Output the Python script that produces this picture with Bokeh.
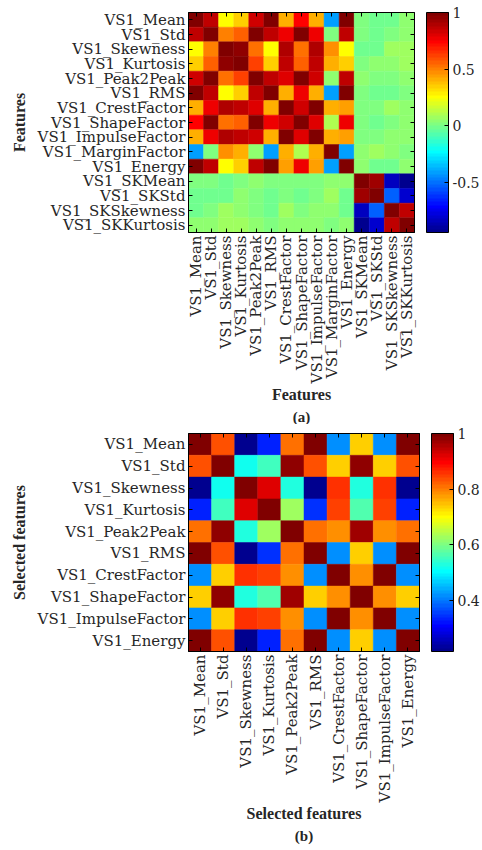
import math
import numpy as np
from bokeh.plotting import figure
from bokeh.models import (LinearColorMapper, ColorBar, FixedTicker, Title,
                          ColumnDataSource, PrintfTickFormatter, CategoricalAxis)
from bokeh.layouts import column
from bokeh.embed import file_html
from bokeh.resources import INLINE

# ---------------- data ----------------
features_all = ["VS1_Mean", "VS1_Std", "VS1_Skewness", "VS1_Kurtosis", "VS1_Peak2Peak",
                "VS1_RMS", "VS1_CrestFactor", "VS1_ShapeFactor", "VS1_ImpulseFactor",
                "VS1_MarginFactor", "VS1_Energy", "VS1_SKMean", "VS1_SKStd",
                "VS1_SKSkewness", "VS1_SKKurtosis"]

corr_all = [
    [1.00, 0.87, 0.27, 0.35, 0.84, 0.99, 0.42, 0.75, 0.42, -0.42, 0.99, 0.02, -0.02, -0.02, 0.03],
    [0.87, 1.00, 0.51, 0.57, 0.97, 0.87, 0.76, 0.99, 0.76, 0.02, 0.87, 0.02, -0.02, 0.00, 0.03],
    [0.27, 0.51, 1.00, 0.94, 0.54, 0.27, 0.89, 0.54, 0.88, 0.47, 0.27, -0.02, -0.02, 0.07, 0.09],
    [0.35, 0.57, 0.94, 1.00, 0.61, 0.35, 0.87, 0.56, 0.87, 0.40, 0.36, 0.00, 0.03, 0.05, 0.07],
    [0.84, 0.97, 0.54, 0.61, 1.00, 0.85, 0.80, 0.97, 0.84, 0.03, 0.85, 0.03, 0.00, 0.02, 0.05],
    [0.99, 0.87, 0.27, 0.35, 0.85, 1.00, 0.42, 0.76, 0.42, -0.41, 0.99, 0.02, -0.02, -0.02, 0.02],
    [0.42, 0.76, 0.89, 0.87, 0.80, 0.42, 1.00, 0.82, 0.99, 0.40, 0.43, 0.025, 0.01, 0.07, 0.06],
    [0.75, 0.99, 0.54, 0.56, 0.97, 0.76, 0.82, 1.00, 0.81, 0.11, 0.76, 0.025, -0.02, 0.02, 0.03],
    [0.42, 0.76, 0.88, 0.87, 0.84, 0.42, 0.99, 0.81, 1.00, 0.40, 0.43, 0.02, 0.02, 0.03, 0.05],
    [-0.42, 0.02, 0.47, 0.40, 0.03, -0.41, 0.40, 0.11, 0.40, 1.00, -0.40, 0.05, 0.09, 0.03, 0.00],
    [0.99, 0.87, 0.27, 0.36, 0.85, 0.99, 0.43, 0.76, 0.43, -0.40, 1.00, 0.03, -0.02, -0.02, 0.03],
    [0.02, 0.02, -0.02, 0.00, 0.03, 0.02, 0.025, 0.025, 0.02, 0.05, 0.03, 1.00, 0.92, -0.83, -0.94],
    [-0.02, -0.02, -0.02, 0.03, 0.00, -0.02, 0.01, -0.02, 0.02, 0.09, -0.02, 0.92, 1.00, -0.53, -0.80],
    [-0.02, 0.00, 0.07, 0.05, 0.02, -0.02, 0.07, 0.02, 0.03, 0.03, -0.02, -0.83, -0.53, 1.00, 0.85],
    [0.03, 0.03, 0.09, 0.07, 0.05, 0.02, 0.06, 0.03, 0.05, 0.00, 0.03, -0.94, -0.80, 0.85, 1.00],
]

features_sel = ["VS1_Mean", "VS1_Std", "VS1_Skewness", "VS1_Kurtosis", "VS1_Peak2Peak",
                "VS1_RMS", "VS1_CrestFactor", "VS1_ShapeFactor", "VS1_ImpulseFactor",
                "VS1_Energy"]

corr_sel = [
    [1.00, 0.84, 0.22, 0.33, 0.81, 0.995, 0.42, 0.74, 0.42, 0.995],
    [0.84, 1.00, 0.51, 0.55, 0.98, 0.84, 0.74, 0.98, 0.74, 0.84],
    [0.22, 0.51, 1.00, 0.92, 0.53, 0.22, 0.855, 0.53, 0.855, 0.215],
    [0.33, 0.55, 0.92, 1.00, 0.63, 0.34, 0.85, 0.57, 0.85, 0.33],
    [0.81, 0.98, 0.53, 0.63, 1.00, 0.81, 0.79, 0.975, 0.79, 0.815],
    [0.995, 0.84, 0.22, 0.34, 0.81, 1.00, 0.42, 0.74, 0.42, 0.995],
    [0.42, 0.74, 0.855, 0.85, 0.79, 0.42, 1.00, 0.78, 0.995, 0.42],
    [0.74, 0.98, 0.53, 0.57, 0.975, 0.74, 0.78, 1.00, 0.79, 0.74],
    [0.42, 0.74, 0.855, 0.85, 0.79, 0.42, 0.995, 0.79, 1.00, 0.42],
    [0.995, 0.84, 0.215, 0.33, 0.815, 0.995, 0.42, 0.74, 0.42, 1.00],
]

cbar_ticks_all = [-0.5, 0, 0.5, 1]
cbar_ticks_sel = [0.4, 0.6, 0.8, 1]


# ---------------- MATLAB jet colormap ----------------
def matlab_jet(m=64):
    n = int(np.ceil(m / 4))
    u = np.concatenate([np.arange(1, n + 1) / n, np.ones(n - 1), np.arange(n, 0, -1) / n])
    g = int(np.ceil(n / 2)) - (1 if m % 4 == 1 else 0) + np.arange(1, len(u) + 1)
    r = g + n
    b = g - n
    g = g[g <= m]
    r = r[r <= m]
    b = b[b >= 1]
    J = np.zeros((m, 3))
    J[r - 1, 0] = u[:len(r)]
    J[g - 1, 1] = u[:len(g)]
    J[b - 1, 2] = u[len(u) - len(b):]
    return ["#%02x%02x%02x" % tuple(int(round(c * 255)) for c in row) for row in J]


JET = matlab_jet(64)

TICK_FONT = "DejaVu Serif"
TITLE_FONT = "Liberation Serif"
TXT = "#262626"


def style_axis(ax):
    ax.axis_line_color = "black"
    ax.major_tick_in = 4
    ax.major_tick_out = 0
    ax.major_tick_line_color = "black"
    ax.minor_tick_line_color = None
    ax.major_label_text_font = TICK_FONT
    ax.major_label_text_font_size = "15px"
    ax.major_label_text_color = TXT
    ax.major_label_standoff = 3
    ax.axis_label_text_font = TITLE_FONT
    ax.axis_label_text_font_size = "16px"
    ax.axis_label_text_font_style = "bold"
    ax.axis_label_text_color = TXT


def mirror_axis(ax):
    # tick marks only (box ticks on the top / right edges), labels not drawn
    ax.axis_line_color = "black"
    ax.major_tick_in = 4
    ax.major_tick_out = 0
    ax.major_tick_line_color = "black"
    ax.major_label_text_color = None
    ax.major_label_text_font_size = "1px"
    ax.major_label_standoff = 0


def spacer_axis(ax, gap):
    # invisible axis used only as a gap between the frame and the colour bar
    ax.axis_line_color = None
    ax.major_tick_in = 0
    ax.major_tick_out = gap
    ax.major_tick_line_color = None
    ax.minor_tick_line_color = None
    ax.major_label_text_color = None
    ax.major_label_text_font_size = "1px"
    ax.major_label_standoff = 0


def heatmap(names, mat, cticks, xlabel, ylabel, caption, fw, fh, top, bottom):
    n = len(names)
    xs, ys, vs = [], [], []
    for i in range(n):
        for j in range(n):
            xs.append(names[j])
            ys.append(names[i])
            vs.append(mat[i][j])
    src = ColumnDataSource(dict(x=xs, y=ys, v=vs))
    mapper = LinearColorMapper(palette=JET, low=min(vs), high=max(vs))

    p = figure(frame_width=fw, frame_height=fh, x_range=names, y_range=names[::-1],
               output_backend="svg", toolbar_location=None,
               min_border_left=188, min_border_right=0,
               min_border_top=top, min_border_bottom=bottom)
    p.rect(x="x", y="y", width=1, height=1, source=src,
           fill_color={"field": "v", "transform": mapper},
           line_color={"field": "v", "transform": mapper}, line_width=0.5)

    p.grid.visible = False
    p.outline_line_color = "black"
    p.outline_line_width = 1
    p.background_fill_color = "white"
    style_axis(p.xaxis[0])
    style_axis(p.yaxis[0])
    p.xaxis.major_label_orientation = math.pi / 2
    p.xaxis.axis_label = xlabel
    p.yaxis.axis_label = ylabel
    p.xaxis.axis_label_standoff = 0
    p.yaxis.axis_label_standoff = 7

    top_ax = CategoricalAxis()
    mirror_axis(top_ax)
    p.add_layout(top_ax, "above")
    right_ax = CategoricalAxis()
    mirror_axis(right_ax)
    p.add_layout(right_ax, "right")
    gap_ax = CategoricalAxis()
    spacer_axis(gap_ax, 12)
    p.add_layout(gap_ax, "right")

    cb = ColorBar(color_mapper=mapper, ticker=FixedTicker(ticks=cticks),
                  formatter=PrintfTickFormatter(format="%g"),
                  width=22, padding=0, margin=0, label_standoff=4,
                  major_label_text_font=TICK_FONT, major_label_text_font_size="14px",
                  major_label_text_color=TXT,
                  bar_line_color="black", bar_line_width=1,
                  major_tick_line_color="black", major_tick_in=4, major_tick_out=0,
                  minor_tick_line_color=None,
                  background_fill_alpha=0, border_line_color=None)
    p.add_layout(cb, "right")

    p.add_layout(Title(text=caption, align="center", text_font=TITLE_FONT,
                       text_font_size="15px", text_font_style="bold",
                       text_color=TXT, standoff=0), "below")
    return p


pa = heatmap(features_all, corr_all, cbar_ticks_all, "Features", "Features", "(a)",
             229, 220, 12, 190)
pb = heatmap(features_sel, corr_sel, cbar_ticks_sel, "Selected features", "Selected features",
             "(b)", 232, 218, 9, 196)

layout = column(pa, pb, spacing=0, width=482, styles={"overflow": "hidden"})
open("out.html", "w").write(file_html(layout, INLINE))
